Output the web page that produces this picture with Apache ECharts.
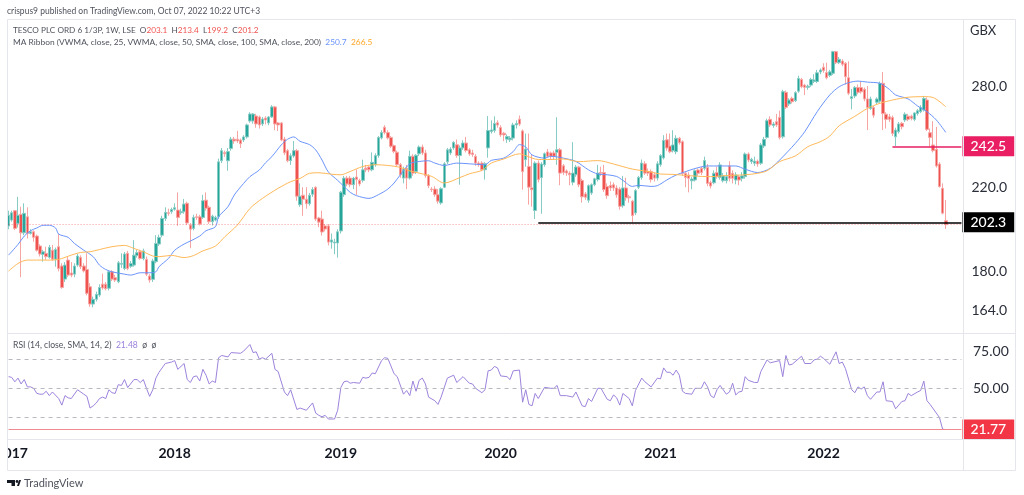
<!DOCTYPE html>
<html>
<head>
<meta charset="utf-8">
<style>html,body{margin:0;padding:0;background:#fff}#chart{width:1024px;height:495px}</style>
<script src="https://cdn.jsdelivr.net/npm/echarts@6/dist/echarts.min.js"></script>
</head>
<body>
<div id="chart"></div>
<script>
var opens = [
200.5,203.4,208,201.8,206.2,197.3,205,197,197.8,195.8,
191.2,187.4,187.9,186.1,189.3,185.3,190.9,182.3,176.7,184.9,
179.3,178.8,182.7,186.1,182.3,180.8,173.5,166.5,168.4,170.1,
174.6,174.6,172.9,179.8,177.3,175.6,183.1,181.2,187.9,182.2,
182.7,186.9,188.6,185.6,185.2,178,176.6,184.2,192.1,196.2,
204.2,207,207.5,208.7,208.3,207,207.5,211.7,201,199.4,
205,205,204.7,213.3,209.7,202.6,203.4,205,234.3,238.8,
234.3,241.2,246.7,246.7,246.2,246.2,248,257.6,257.6,260.7,
260.1,255.8,259.4,256.4,260.1,266.4,256.4,256.4,246.7,240,
234.3,237,240,211,215.8,213.8,211.5,216.3,219.9,204.4,
203.9,200.6,200.6,193,192.6,192.6,198.2,216.1,224.8,224.8,
221.3,225.4,223.6,223.6,230.2,230.8,229.3,232.1,237.2,247.4,
253.8,250.6,247.7,242.9,239.1,232.1,224.8,230.2,224.8,236.8,
228.4,238.2,242.1,238.7,226.1,219,219,216.1,211.9,220,
233.7,238.7,241.6,243.4,237.2,241.6,244.4,240.5,238.7,236.8,
233,233,229.3,241.6,251.2,251.8,256.5,253.6,250.2,246.7,
246.3,247.3,255.2,258.7,251.6,234.9,231.1,219.6,208.1,233,
225.1,232.1,239.3,238.7,238.7,239.1,240.5,231.5,228.7,227.5,
222.6,226.6,230.8,223.5,216.5,213.3,217,221.3,224,227.8,
227.8,220.4,220.9,221.3,219.6,219,210.5,219.6,215,212.8,
206.9,220,225.2,232.6,228.4,228.4,226.6,224.8,232.1,235.9,
246.3,242.7,240,239.4,247.2,245.2,227.4,226.5,223.4,223.8,
229.2,230.1,230.1,230.6,222.5,222.3,227.8,225.2,223.4,223.4,
231.4,227.4,223.8,225.6,224.7,225.6,238.1,233.8,232.9,234.1,
232.9,242.7,247.7,258.6,254.8,257.2,259.8,248.1,275.8,268.3,
271.9,270.4,276.6,284.4,280.6,279.1,280.6,283,283,289.5,
292.8,289.1,287.2,288.6,303.9,296,297.2,295.6,285.6,271.8,
273.4,279,279,277.8,271.5,265.4,266,269.4,270.1,281.8,
261.8,260.2,259.8,248.1,251.1,256.2,258.2,260.6,260.6,258.6,
262.2,263.4,264.4,270.8,250.5,243.3,240.8,232.5,219.4,203.1];
var closes = [
205.8,207,199.4,205.8,197.3,206.7,197,197.8,195.2,189.3,
187.6,188.6,186.4,190.6,185.3,189.6,181.2,173.2,182.7,178.4,
178.4,182.3,186.7,182,180.2,170.8,166.5,168.4,170.4,173.2,
173,172.7,179.8,176.7,176.3,183.7,183.4,187.6,181.2,183.4,
187.1,188.2,185.6,189,178.8,176.3,184.5,192.4,195.2,204.2,
207.2,206.7,208.6,209.5,204.7,207.5,211.3,202,199,204.7,
204.7,201.5,213,209.2,202.6,205.3,204.7,233.7,240,238.3,
239.5,246.7,245.6,245.6,244,248,255.2,261.9,261.9,255.8,
255.2,258.8,258.2,260.1,266.4,255.8,255.2,246.2,238.8,234.3,
237.1,240,215.3,215.3,213.8,211.5,215.8,218.8,203.9,202.4,
197.7,199.1,193,194,193,197.8,217.4,224.8,221.7,221.3,
224.8,224,221.7,229.3,229.3,229.3,233.4,237.2,247.7,250.6,
250.6,247.4,242.5,239.5,232.1,226.6,229.7,224.8,236.8,227.5,
237.4,242.1,238.7,226.1,220.8,218.7,216.1,212.8,219.2,232.6,
240.5,240.9,244.8,237.2,241.6,244.4,240.1,238.1,237.8,233,
232.1,229.3,232.6,251.8,252.2,256.1,255.1,249.2,249.2,248.2,
247.3,255.2,256.1,255.7,228.4,240.9,220,218.7,233,224,
232.5,238.3,236.8,236.8,236.8,240.5,227.5,227.9,227.5,226.6,
227.5,230.8,221.3,215,214.8,220.8,221.3,224.4,227.5,227.5,
218.7,215.6,219.6,219.6,216,210.2,219.6,214.5,214.5,205.6,
218.2,225.2,233,227.5,227.5,224,224.8,232.6,237.2,245.9,
241.5,239.4,243.3,247.2,244.6,227.4,225.2,224.7,224.3,228.8,
227.4,227.8,234.4,222,220.6,227.4,225.6,232,226,225.6,
224.7,224.7,226.5,223.8,226,238.1,234.7,235.1,234.1,232.5,
243.3,246.6,257.8,255.2,255.8,255.2,247.7,276.2,266.1,270.8,
269.7,275.6,285.1,279.5,279.1,279.9,284.4,284,289,290.9,
290.5,285.6,289.6,303.9,296,298.4,294.9,286.3,275.2,273,
279,275.8,276.2,271.5,266,271.5,261.2,271.5,281.8,262.2,
258.6,258.6,250.1,252.1,255.8,254.1,261.8,258.6,259.2,262.6,
264,266,271.8,252.5,247.7,240,231.4,220.3,206.8,201.2];
var lows = [
199,202.6,198.6,199.8,177.5,196.2,194.7,196.5,193.2,188.7,
186.5,184.2,185,185.5,184.6,182,180,172.7,175.5,177.5,
177.5,177.5,182,181,179.5,170,165.4,165.2,167.5,169.4,
172.3,172,172,175.9,175.5,175,181.5,180.5,180.5,181.5,
182,186,185,184.8,178,175.2,175.5,183.5,191.2,195.2,
203,205.5,206.5,208,200.6,206,206.5,201,190.2,198.5,
203.5,200.8,204,208,201.5,200.8,202.8,204,233,236.5,
228.8,240,244,244.5,241.5,245,247,256.5,256,253.5,
253,254.5,255.5,255,259.5,252,251.5,245.5,237.5,233.5,
232,236,213,210,205.5,209,210.5,215,203,200,
196,198,191.5,190,187.5,186,197,215,220.5,220,
219,216,220.5,222.5,228,228,228.5,231,236,246.5,
249.5,246.5,241.5,238.5,231,225,222,219,224,226,
227,237,237.5,225,219.5,217.5,215,211.5,211,219.5,
232.5,237.5,240.5,236,221.3,240.5,239,237,236.5,231.5,
231,228.5,224,236,250,250.5,253.5,248,245.5,244.5,
245,246,253,254.5,218.7,231,211,210,203.9,222.5,
206.5,231,236,235,235,232,221,226.5,226,221,
221,225.5,220,212,213.5,212,216,220.5,223,226,
217.5,214,218,218,214.5,208.5,209.5,213,212,202.2,
205.8,219,224,226.5,226,222.5,223,223.5,231,235,
240,238.5,239,238,243.5,226,220,217.3,218.9,223,
226,226.5,229,220.5,219.3,221.5,224.5,224,222.5,222,
223,222,221.5,221,223,224.5,233.5,232.5,231.5,231,
232,241.5,247,254,253.5,254,246.5,247,265,267,
268.5,269.5,275.5,278.5,274,277.5,279.5,282,282,288,
289,284.5,286,287.5,295,295,293.5,281,274,264.8,
272,274.5,275,270,252.1,264.5,259.5,268,269,252.1,
253,257,248.5,242.7,250,252.5,257,257.5,258,257.5,
261,262.5,263.5,251.5,242,239,230.5,219.8,206.2,199.2];
var highs = [
208,208,208.3,215,210,211.7,209.7,199,198.5,196.5,
192,189.5,190.9,191.7,191.7,190.5,196.7,183.5,184,186.5,
184,183.5,187.6,187,183.5,187.9,175,169.5,171.5,174.5,
179,175.5,180.5,180.5,178.5,184.5,187.9,188.5,189,184.5,
193.9,189.5,189.5,190,186.5,178.8,185.5,196.2,196.5,205.5,
209.7,209,209.5,211.7,217.3,209,213.9,212.5,202,206,
206.5,206,216,217.3,210.5,206,205.5,235.5,241.5,240,
241.5,248,248,251.6,247,249,256,263,262.5,262,
261,260,260.5,260.7,267.5,267,257,257,248,241,
238.5,245.6,241,222,220,220,217,220,220.5,205,
208,201.5,201.5,197,194.5,199,218,226,226,226,
225.5,229.5,224.5,234.9,232,231.5,239,238.5,248.5,252,
255,252,248.5,243.5,240,233,231,232,240,238,
238,243,243.5,240.5,227,220,220.5,219,220,233.5,
241.5,242,245.5,246.5,243,246,248,241.5,240.5,238,
234,234,233.5,260.6,258,260.5,258,255,251,249.5,
248.5,256.5,258,261,252.5,250,250,238,234,234.5,
233.5,239,241,239.5,240,259.9,241.5,232.5,229.5,228.5,
244.9,232,231.5,224.5,217.5,221.5,222,225,232,231,
232,222,223,222.5,221,220,226,225,216,213.5,
219,226,235,234,230,229.5,228,234,238,249,
250,250,252,249,248,246,228.5,228,225.5,229.5,
230,231,236.6,232.5,223.5,229,231,233.5,227.5,228,
234,229,228,226.5,228,239,239,236,236.6,235,
244.5,248,259,260.5,257,262,264,277.5,277,272,
273,276.5,287,285.5,281.5,281,285.5,288,291,292,
295.6,296,291,304.5,304.5,300,298.5,296.5,297,278,
280,281,283,279,280,273,267,272.5,283,289.5,
263,262,261,253.5,257,257,263,262,261.5,263,
265,267.5,273.5,272.5,253,257.5,254,233.5,222,213.4];

// [week, value] at the bends of each line
var maBlue = [[0,187.1],[3,191.9],[5,195.8],[7,198.3],[9,199.6],[11,200.9],[13,200.9],[15,199.6],[16,196.7],[19,195.2],[21,192.4],[24,189.3],[27,186.4],[29,182.7],[31,180.8],[33,179.8],[37,178.8],[39,178.4],[42,179.4],[45,179.4],[47,179.8],[48,182],[51,185.6],[53,189.3],[56,192.1],[58,193.5],[61,195.8],[63,198.3],[66,200.2],[67,205],[70,210],[72,215.9],[75,222],[77,225.6],[80,229.2],[82,233.2],[84,236.6],[87,243.3],[89,246.6],[91,248],[93,245.4],[96,243.5],[98,240.4],[100,234.7],[102,228.2],[105,223.6],[107,220.4],[109,217.3],[111,215.6],[115,214.2],[118,216.1],[121,219],[123,222.2],[125,226.6],[128,232.6],[131,233.9],[134,234.3],[136,233],[139,231.7],[143,233],[147,232.6],[152,232.1],[154,234.5],[158,235.8],[161,239.5],[163,243.5],[165,242.1],[167,237.6],[171,235.8],[173,236.8],[177,235.8],[181,233.9],[185,229.3],[188,227],[191,226.6],[194,225.7],[196,223.6],[199,220.4],[201,221],[205,220.4],[207,220.8],[210,223.8],[213,226.5],[216,228.3],[219,230],[223,231.4],[227,231.4],[232,231.4],[235,229.6],[239,227.8],[243,230.1],[246,234.7],[251,244.2],[254,251.1],[258,263.4],[262,274.1],[265,279.5],[268,282.2],[271,283.3],[274,282.6],[278,281.8],[281,277.8],[283,274.1],[287,271.5],[290,267],[293,263.4],[296,258.2],[299,250.7]];
var maOrange = [[0,180.1],[3,183.4],[6,184.9],[9,184.9],[13,184.9],[16,185.2],[20,187.1],[23,188.3],[26,188.6],[29,189.6],[33,190.9],[37,191.5],[40,190.1],[43,188.6],[46,186.7],[48,186.4],[52,187],[56,186],[59,186.9],[62,189],[66,191.2],[69,195.5],[73,201],[77,209.1],[81,214.2],[86,219.4],[90,222.9],[93,224.6],[96,227.4],[99,227.7],[103,226.9],[106,226.6],[109,228.4],[113,231.1],[117,232.1],[121,231.7],[125,230.6],[128,228.7],[131,227.5],[135,225.7],[139,222.2],[144,225.1],[147,227.1],[151,229],[154,233],[158,235.3],[163,238.2],[165,237.2],[169,235],[173,235],[177,235.3],[182,233.8],[188,234.4],[193,232.5],[199,229.7],[204,228.4],[208,227],[212,226.8],[219,225.9],[224,225.6],[229,226.2],[235,226.6],[239,227.4],[242,228.8],[246,233.8],[251,237],[255,242.3],[259,245.2],[262,248.5],[265,254.7],[270,260.5],[274,265.4],[278,268.7],[282,270.8],[287,272.6],[292,273],[295,272.4],[299,266.5]];
var rsiPoints = [[0,58],[1,57.5],[2,54.5],[3,57],[4,53],[5,56],[6,51],[7,51],[8,50],[9,46.6],[10,46],[11,46],[12,48],[13,45],[14,47.5],[16,43],[17,38.5],[18,45],[19,43.5],[20,43],[22,49],[24,46],[25,44.5],[26,36.5],[27,38],[28,40],[29,43],[30,44],[31,43],[32,49],[33,47],[34,46.5],[35,52.5],[36,52],[37,56],[38,50.5],[40,56],[41,56],[42,54],[43,56],[44,50],[45,44.5],[46,49],[47,57],[48,61],[50,67],[52,68],[53,69],[54,63],[56,67],[57,56],[58,54],[59,58],[60,58.5],[61,55],[62,63],[63,59],[64,53],[65,55],[66,54],[67,71],[68,72.5],[70,71.5],[71,74.5],[74,74],[75,75.5],[77,80],[78,74.5],[79,75],[80,70],[81,71],[82,70],[84,74],[85,63],[86,61.5],[88,47.5],[89,45],[90,49],[92,35.5],[93,36.5],[95,35],[97,40],[98,33],[99,31.5],[100,30.5],[101,31.5],[102,29],[104,29],[105,35],[106,50.5],[107,54.5],[108,55],[109,53.5],[110,54],[112,53.5],[113,57.5],[114,57],[115,57.5],[116,60.5],[117,60],[119,69],[120,71],[121,70.5],[123,60],[124,58],[126,46],[127,48.5],[128,45],[129,55],[130,48],[131,55.5],[132,57],[133,53],[134,44],[136,41.5],[137,39],[138,44],[140,57],[142,59],[143,54],[145,58],[147,53.5],[148,53],[149,50],[151,47],[152,49],[153,62],[154,62.5],[155,65],[156,64],[157,58.5],[159,58],[160,56],[161,62],[163,62.5],[164,40.5],[165,49],[166,39],[167,38],[168,46.5],[169,43],[171,50.7],[173,50],[174,50],[175,52],[176,45],[178,45],[180,44],[181,47.5],[183,38],[184,37.5],[185,43],[186,41],[188,50],[189,50],[191,42.5],[192,41.5],[193,45.5],[194,43.5],[195,38.5],[196,46.5],[198,43],[199,38],[200,48.5],[202,57],[203,54.5],[205,51],[207,57],[208,56.5],[209,64],[210,61],[211,61],[212,59],[213,62.5],[214,59],[215,48],[216,46.5],[218,46],[219,50],[221,50],[222,54.5],[223,51],[224,45],[225,43.5],[226,49],[227,52],[229,46],[230,47.5],[231,53.5],[232,45.5],[233,47.5],[234,48],[235,58],[236,55.5],[238,54],[239,54],[240,61.5],[242,69.5],[243,67.5],[246,69],[247,58],[248,72.5],[249,66],[250,66.5],[253,72],[254,67],[256,67],[257,69.5],[258,70],[259,72],[260,70.5],[262,66.5],[264,75],[265,67],[266,68],[267,63.5],[269,49],[270,47],[271,51],[272,49.5],[273,51],[274,45],[275,42.5],[277,47.5],[278,47.5],[279,54.5],[280,41.5],[282,41],[283,36],[285,41],[286,41.5],[287,46.5],[288,45],[290,47.5],[291,48.5],[292,55],[293,41.5],[294,39],[297,30],[298,22],[299,21.77]];

var priceTicks = [280, 220, 180, 164];
var rsiTicks = [50, 75];
var rsiLevels = [70, 50, 30];
var yearWeeks = [1, 53, 106, 157, 208, 260];
var yearLabels = ['2017', '2018', '2019', '2020', '2021', '2022'];
var lastWeek = 304;

var weeks = [];
for (var w = 0; w <= lastWeek; w++) {
    weeks.push(String(w));
}
var candles = opens.map(function (o, i) {
    return [o, closes[i], lows[i], highs[i]];
});

var sans = 'Lato, "Noto Sans", sans-serif';
var red = '#ef5350';
var green = '#26a69a';
var frame = '#e4e6ec';

// level line running to the scale, with a filled box as its price tag
function tagLine(from, value, color, lineColor, width, box) {
    return [{
        xAxis: from,
        yAxis: value,
        lineStyle: {color: lineColor, width: width, type: 'solid'},
        label: {
            show: true,
            position: 'end',
            distance: 1,
            formatter: box,
            color: '#fff',
            backgroundColor: color,
            fontFamily: sans,
            fontSize: 14,
            fontWeight: 500,
            padding: [3, 8, 3, 8]
        }
    }, {xAxis: lastWeek, yAxis: value}];
}

// transparent stub, only its label at the price scale is seen
function priceTick(value) {
    return [{
        xAxis: lastWeek - 1,
        yAxis: value,
        lineStyle: {color: 'transparent', width: 1},
        label: {
            show: true,
            position: 'end',
            distance: 10,
            formatter: value.toFixed(1),
            color: '#2a2e39',
            fontFamily: sans,
            fontSize: 14
        }
    }, {xAxis: lastWeek, yAxis: value}];
}

var priceMarks = priceTicks.map(priceTick);
priceMarks.push([{xAxis: 0, yAxis: 201.2, lineStyle: {color: 'rgba(242,54,69,0.5)', width: 1, type: [1, 2]}, label: {show: false}}, {xAxis: lastWeek, yAxis: 201.2}]);
priceMarks.push(tagLine(169, 202.3, '#000000', '#000000', 1.5, '202.3'));
priceMarks.push(tagLine(282, 242.5, '#e91e63', '#e91e63', 1.5, '242.5'));

var rsiMarks = rsiLevels.map(function (v) {
    return [{xAxis: 0, yAxis: v, lineStyle: {color: '#b8bac2', width: 1, type: [4, 4]}, label: {show: false}}, {xAxis: lastWeek, yAxis: v}];
});
rsiMarks.push(tagLine(0, 21.77, '#f23645', '#f08a90', 1, '21.77'));

function text(x, y, str, color, size) {
    return {
        type: 'text',
        z: 50,
        silent: true,
        style: {x: x, y: y, text: str, fill: color, font: size + 'px ' + sans, verticalAlign: 'middle'}
    };
}
function rule(x1, y1, x2, y2) {
    return {type: 'line', z: 50, silent: true, shape: {x1: x1, y1: y1, x2: x2, y2: y2}, style: {stroke: frame, lineWidth: 1}};
}
function legendLine(x, y, size, parts) {
    // parts: [text, colour] pairs, placed one after the other through rich text
    var rich = {};
    var str = '';
    parts.forEach(function (p, i) {
        rich['p' + i] = {fill: p[1], font: size + 'px ' + sans};
        str += '{p' + i + '|' + p[0] + '}';
    });
    return {type: 'text', z: 50, silent: true, style: {x: x, y: y, text: str, rich: rich, verticalAlign: 'middle'}};
}

var chart = echarts.init(document.getElementById('chart'));
var option = {
    animation: false,
    backgroundColor: '#fff',
    grid: [
        {left: 7, right: 61, top: 19, height: 314, outerBoundsMode: 'none'},
        {left: 7, right: 61, top: 333, height: 106, outerBoundsMode: 'none'}
    ],
    xAxis: [
        {type: 'category', gridIndex: 0, data: weeks, show: false},
        {
            type: 'category',
            gridIndex: 1,
            data: weeks,
            axisLine: {show: false},
            axisTick: {show: false},
            axisLabel: {
                margin: 7,
                color: '#131722',
                fontFamily: sans,
                fontSize: 14,
                fontWeight: 700,
                interval: function (idx) {
                    return yearWeeks.indexOf(idx) >= 0;
                },
                formatter: function (v) {
                    return yearLabels[yearWeeks.indexOf(Number(v))];
                }
            }
        }
    ],
    yAxis: [
        {
            type: 'log',
            gridIndex: 0,
            position: 'right',
            min: 155.4,
            max: 328.5,
            axisLine: {show: false},
            axisTick: {show: false},
            axisLabel: {show: false},
            splitLine: {show: false},
            minorSplitLine: {show: false}
        },
        {
            type: 'value',
            gridIndex: 1,
            position: 'right',
            min: 15.3,
            max: 87.9,
            axisLine: {show: false},
            axisTick: {show: false},
            splitLine: {show: false},
            axisLabel: {
                customValues: rsiTicks,
                margin: 10,
                color: '#2a2e39',
                fontFamily: sans,
                fontSize: 14,
                formatter: function (v) {
                    return v.toFixed(2);
                }
            }
        }
    ],
    series: [
        {
            name: 'TESCO',
            type: 'candlestick',
            xAxisIndex: 0,
            yAxisIndex: 0,
            barWidth: 3,
            data: candles,
            itemStyle: {color: green, color0: red, borderColor: '#86cbc4', borderColor0: '#f6a5a3', borderWidth: 1},
            markLine: {silent: true, symbol: 'none', animation: false, data: priceMarks}
        },
        {
            name: 'VWMA 25',
            type: 'line',
            xAxisIndex: 0,
            yAxisIndex: 0,
            data: maBlue,
            showSymbol: false,
            smooth: 0.3,
            lineStyle: {color: '#6a93fb', width: 1}
        },
        {
            name: 'VWMA 50',
            type: 'line',
            xAxisIndex: 0,
            yAxisIndex: 0,
            data: maOrange,
            showSymbol: false,
            smooth: 0.3,
            lineStyle: {color: '#ffb959', width: 1}
        },
        {
            name: 'RSI',
            type: 'line',
            xAxisIndex: 1,
            yAxisIndex: 1,
            data: rsiPoints,
            showSymbol: false,
            lineStyle: {color: '#9d83dc', width: 1},
            markLine: {silent: true, symbol: 'none', animation: false, data: rsiMarks}
        }
    ],
    graphic: [
        {type: 'rect', z: 49, silent: true, shape: {x: 0, y: 440, width: 7, height: 30}, style: {fill: '#fff'}},
        rule(7.5, 19.5, 1015.5, 19.5),
        rule(7.5, 19.5, 7.5, 470.5),
        rule(1015.5, 19.5, 1015.5, 470.5),
        rule(7.5, 470.5, 1015.5, 470.5),
        rule(7.5, 333.5, 1015.5, 333.5),
        rule(7.5, 439.5, 1015.5, 439.5),
        rule(963.5, 19.5, 963.5, 470.5),
        text(7, 11, 'crispus9 published on TradingView.com, Oct 07, 2022 10:22 UTC+3', '#50535e', 8.5),
        legendLine(13, 30, 8.2, [['TESCO PLC ORD 6 1/3P, 1W, LSE  O', '#50535e'], ['203.1', red], ['  H', '#50535e'], ['213.4', red], ['  L', '#50535e'], ['199.2', red], ['  C', '#50535e'], ['201.2', red]]),
        legendLine(13, 42, 8.4, [['MA Ribbon (VWMA, close, 25, VWMA, close, 50, SMA, close, 100, SMA, close, 200)  ', '#50535e'], ['250.7', '#6a93fb'], ['  ', '#50535e'], ['266.5', '#ffa726']]),
        legendLine(13, 345, 8.6, [['RSI (14, close, SMA, 14, 2)  ', '#50535e'], ['21.48', '#9d83dc'], ['  \u00f8  \u00f8', '#50535e']]),
        text(970, 31, 'GBX', '#2a2e39', 13),
        // TradingView mark
        {type: 'polygon', z: 50, silent: true, shape: {points: [[7, 480], [15, 480], [15, 486], [11.5, 486], [11.5, 483], [7, 483]]}, style: {fill: '#131722'}},
        {type: 'circle', z: 50, silent: true, shape: {cx: 17, cy: 481.5, r: 1.4}, style: {fill: '#131722'}},
        {type: 'polygon', z: 50, silent: true, shape: {points: [[17, 486], [19, 480], [21, 480], [19, 486]]}, style: {fill: '#131722'}},
        text(24, 483, 'TradingView', '#50535e', 11)
    ]
};
chart.setOption(option);
</script>
</body>
</html>
